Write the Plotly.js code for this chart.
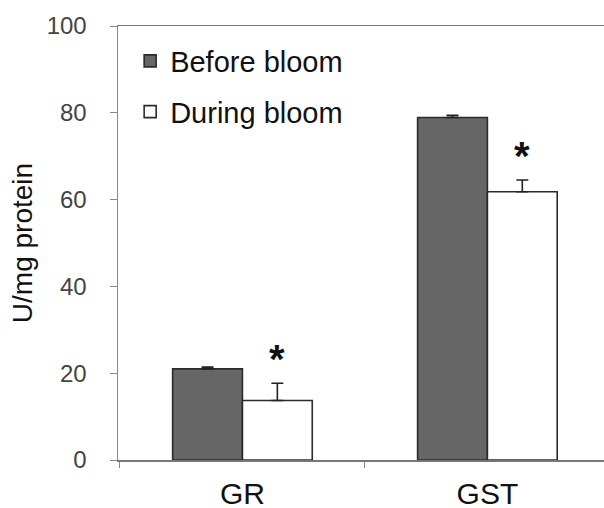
<!DOCTYPE html>
<html>
<head>
<meta charset="utf-8">
<script src="https://cdn.plot.ly/plotly-3.0.1.min.js"></script>
<style>html,body{margin:0;padding:0;background:#fff;}#chart{width:604px;height:508px;}</style>
</head>
<body>
<div id="chart"></div>
<script>
// Data
const categories = ["GR", "GST"];
const seriesNames = ["Before bloom", "During bloom"];
const beforeValues = [21.0, 78.9];
const beforeErrors = [0.4, 0.5];
const duringValues = [13.7, 61.8];
const duringErrors = [4.0, 2.7];
const significant = [true, true]; // "*" over During bloom bars
const yTickValues = [0, 20, 40, 60, 80, 100];

const bargap = 0.43;
const barWidthCat = (1 - bargap) / 2;

const traces = [
  {
    type: "bar", name: seriesNames[0], x: categories, y: beforeValues,
    legendgroup: "a",
    marker: {color: "#666666", line: {color: "#2b2b2b", width: 1.6}},
    error_y: {type: "data", array: beforeErrors, arrayminus: beforeErrors.map(() => 0), symmetric: false,
              color: "#222", thickness: 1.6, width: 6}
  },
  {
    type: "bar", name: seriesNames[1], x: categories, y: duringValues,
    legendgroup: "b",
    marker: {color: "#ffffff", line: {color: "#2b2b2b", width: 1.6}},
    error_y: {type: "data", array: duringErrors, arrayminus: duringErrors.map(() => 0), symmetric: false,
              color: "#222", thickness: 1.6, width: 6}
  }
];

const annotations = [];
categories.forEach((c, i) => {
  if (significant[i]) {
    annotations.push({
      x: i + barWidthCat / 2, y: duringValues[i] + duringErrors[i],
      xref: "x", yref: "y", text: "<b>*</b>", showarrow: false,
      yanchor: "bottom", yshift: 0,
      font: {family: "Liberation Sans, Arial, sans-serif", size: 40, color: "#111"}
    });
  }
});

const layout = {
  width: 604, height: 508,
  margin: {l: 118, r: 0, t: 26, b: 48},
  paper_bgcolor: "#fff", plot_bgcolor: "#fff",
  font: {family: "Liberation Sans, Arial, sans-serif", color: "#222"},
  barmode: "group", bargap: bargap, bargroupgap: 0,
  showlegend: true,
  legend: {
    x: 0.025, y: 0.978, xanchor: "left", yanchor: "top",
    traceorder: "grouped", tracegroupgap: 10,
    font: {size: 29, color: "#111"}, bgcolor: "rgba(0,0,0,0)", borderwidth: 0
  },
  xaxis: {
    type: "category", range: [-0.508, 1.476],
    showline: true, linecolor: "#777", linewidth: 1.5, mirror: true,
    ticks: "outside", ticklen: 6, tickcolor: "#888", tickson: "boundaries",
    ticklabelstandoff: 6,
    tickfont: {size: 30, color: "#111"},
    showgrid: false, zeroline: false, fixedrange: true
  },
  yaxis: {
    range: [0, 100], tickvals: yTickValues, ticktext: yTickValues.map(String),
    showline: true, linecolor: "#8a8a8a", linewidth: 1.5,
    ticks: "outside", ticklen: 7, tickcolor: "#888",
    ticklabelstandoff: 18,
    tickfont: {size: 24, color: "#444"},
    showgrid: false, zeroline: false,
    title: {text: "U/mg protein", font: {size: 28, color: "#111"}, standoff: 6},
    automargin: false
  },
  annotations: annotations
};

Plotly.newPlot("chart", traces, layout, {displayModeBar: false, staticPlot: true});
</script>
</body>
</html>
